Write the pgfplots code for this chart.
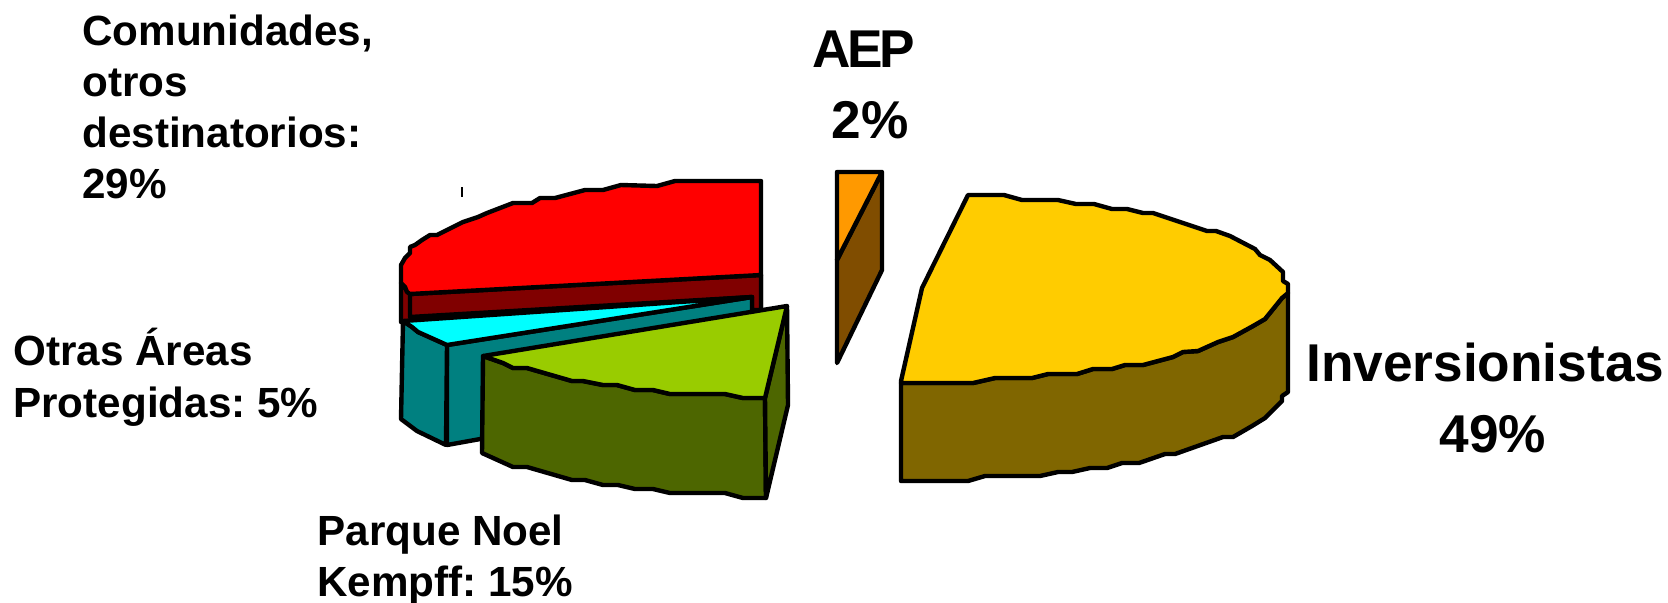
\documentclass[border=0pt]{standalone}
\usepackage{pgfplots}
\usepackage{fontspec}
\setmainfont{Liberation Sans}
\pgfplotsset{compat=1.18}
% slice colours
\definecolor{yellowtop}{HTML}{FFCC00}
\definecolor{yellowside}{HTML}{806600}
\definecolor{orangetop}{HTML}{FF9900}
\definecolor{orangeside}{HTML}{804D00}
\definecolor{redtop}{HTML}{FF0000}
\definecolor{redside}{HTML}{800000}
\definecolor{cyantop}{HTML}{00FFFF}
\definecolor{cyanside}{HTML}{008080}
\definecolor{greentop}{HTML}{99CC00}
\definecolor{greenside}{HTML}{4D6600}
\newcommand{\labelbig}{\fontsize{26.6pt}{30pt}\bfseries\selectfont\frenchspacing}
\newcommand{\labelsmall}{\fontsize{21.1pt}{25pt}\bfseries\selectfont\frenchspacing}
\begin{document}
\begin{tikzpicture}
\begin{axis}[
  scale only axis, width=834pt, height=301pt,
  xmin=0, xmax=1668, ymin=0, ymax=602, y dir=reverse,
  hide axis, clip=true,
  every axis plot/.append style={draw=black, line width=2.2pt, line join=round, mark=none},
]
\path[use as bounding box] (axis cs:0,0) rectangle (axis cs:1668,602);

% Comunidades, otros destinatorios: 29%
\addplot[fill=redside] coordinates {(401,283)(401,322)(761,310)(761,275)(410,294)} --cycle;
\addplot[fill=redside] coordinates {(410,294)(410,317)(752,297)(752,310)(761,310)(761,275)} --cycle;
\addplot[fill=redtop] coordinates {(761,181)(675,181)(657,186)(621,185)(603,190)(585,190)(555,198)(540,198)(532,203)(513,203)(487,213)(478,217)(463,222)(437,235)(430,235)(422,240)(415,245)(410,247)(410,253)(405,258)(401,265)(401,283)(405,287)(407,292)(410,294)(761,275)} --cycle;
\addplot[line width=0.6pt] coordinates {(462,187)(462,197)};

% Otras Areas Protegidas: 5%
\addplot[fill=cyanside] coordinates {(447,345)(752,297)(752,390)(447,445)} --cycle;
\addplot[fill=cyanside] coordinates {(403,321)(401,419)(417,431)(446,445)(447,345)(418,332)(412,327)} --cycle;
\addplot[fill=cyantop] coordinates {(403,321)(752,297)(447,345)(418,332)(412,327)} --cycle;

% Parque Noel Kempff: 15%
\addplot[fill=greenside] coordinates {(483,356)(482,453)(513,467)(527,467)(572,480)(585,480)(603,485)(618,485)(635,489)(653,489)(670,493)(725,493)(743,498)(766,498)(765,398)(743,398)(725,394)(670,394)(653,390)(635,390)(617,385)(603,385)(583,381)(572,381)(527,368)(513,368)(503,363)} --cycle;
\addplot[fill=greenside] coordinates {(765,398)(787,306)(788,405)(766,498)} --cycle;
\addplot[fill=greentop] coordinates {(483,356)(787,306)(765,398)(743,398)(725,394)(670,394)(653,390)(635,390)(617,385)(603,385)(583,381)(572,381)(527,368)(513,368)(503,363)} --cycle;

% AEP 2%
\addplot[fill=orangeside] coordinates {(882,172)(882,270)(837,363)(837,260)} --cycle;
\addplot[fill=orangetop] coordinates {(837,172)(882,172)(837,260)} --cycle;

% Inversionistas 49%
\addplot[fill=yellowside] coordinates {(901,383)(901,481)(968,481)(985,476)(1040,476)(1058,472)(1072,472)(1090,468)(1107,468)(1122,463)(1139,463)(1165,454)(1175,454)(1223,437)(1233,437)(1252,426)(1265,418)(1282,401)(1282,396)(1288,392)(1288,293)(1282,298)(1265,319)(1253,326)(1233,337)(1218,342)(1198,351)(1183,352)(1173,357)(1143,365)(1125,365)(1112,369)(1093,369)(1077,374)(1048,374)(1032,378)(995,378)(973,383)} --cycle;
\addplot[fill=yellowtop] coordinates {(901,381)(922,288)(968,195)(1004,195)(1022,200)(1058,200)(1076,204)(1094,204)(1112,209)(1127,209)(1143,213)(1153,213)(1207,231)(1216,231)(1230,236)(1255,249)(1260,255)(1270,260)(1283,272)(1283,281)(1288,284)(1288,293)(1282,298)(1265,319)(1253,326)(1233,337)(1218,342)(1198,351)(1183,352)(1173,357)(1143,365)(1125,365)(1112,369)(1093,369)(1077,374)(1048,374)(1032,378)(995,378)(973,383)(901,383)} --cycle;

% slice labels
\node[anchor=base west,inner sep=0pt,font=\labelsmall] at (axis cs:82,45) {Comunidades,};
\node[anchor=base west,inner sep=0pt,font=\labelsmall] at (axis cs:82,96) {otros};
\node[anchor=base west,inner sep=0pt,font=\labelsmall] at (axis cs:82,147) {destinatorios:};
\node[anchor=base west,inner sep=0pt,font=\labelsmall] at (axis cs:82,198) {29\%};
\node[anchor=base,inner sep=0pt,font=\labelbig] at (axis cs:864,67) {A\kern-2pt E\kern-1.5pt P};
\node[anchor=base,inner sep=0pt,font=\labelbig] at (axis cs:870,138) {2\%};
\node[anchor=base west,inner sep=0pt,font=\labelbig] at (axis cs:1306,381) {Inversionistas};
\node[anchor=base,inner sep=0pt,font=\labelbig] at (axis cs:1493,452) {49\%};
\node[anchor=base west,inner sep=0pt,font=\labelsmall] at (axis cs:13,365) {Otras Áreas};
\node[anchor=base west,inner sep=0pt,font=\labelsmall] at (axis cs:13,417) {Protegidas: 5\%};
\node[anchor=base west,inner sep=0pt,font=\labelsmall] at (axis cs:317,545) {Parque Noel};
\node[anchor=base west,inner sep=0pt,font=\labelsmall] at (axis cs:317,596) {Kempff: 15\%};
\end{axis}
\end{tikzpicture}
\end{document}
